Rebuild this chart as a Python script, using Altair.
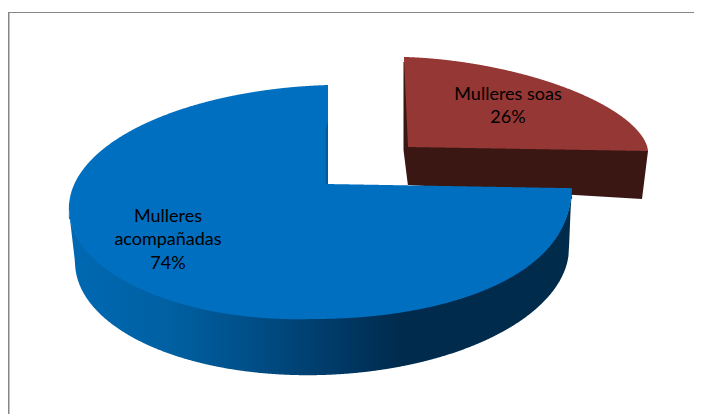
import altair as alt
import numpy as np
import pandas as pd

# Data
categories = ["Mulleres acompañadas", "Mulleres soas"]
label_text = ["Mulleres\nacompañadas\n74%", "Mulleres soas\n26%"]
shares = [74, 26]

# Colours
blue_top = "#006fc0"
blue_edge = "#00599c"
red_top = "#953735"
red_side = "#3a1713"
frame = "#868686"

W, H = 686, 406
x_scale = alt.Scale(domain=[8, 8 + W], range=[0, W], nice=False, zero=False)
y_scale = alt.Scale(domain=[8 + H, 8], range=[H, 0], nice=False, zero=False)


def area_layer(frame_df, fill):
    return alt.Chart(frame_df).mark_area(fill=fill, stroke=None, interpolate="linear", clip=False).encode(
        x=alt.X("x:Q", scale=x_scale, axis=None),
        y=alt.Y("y:Q", scale=y_scale, axis=None),
        y2="y2:Q",
    )


# The cut sits at 12 o'clock; the red share runs clockwise from there
red_span = shares[1] / sum(shares) * 2 * np.pi
start = red_span - np.pi / 2  # where the blue rim begins


def blue_rim(t):
    """Rim of the blue disc seen in perspective."""
    s, c = np.sin(t), np.cos(t)
    s0 = np.sin(start)
    k = np.where(c > 0, -10.0, -7.5)
    front_right = (c > 0) & (s > 0)
    lift = np.where(front_right, (np.clip(s - s0, 0, None) / (1 - s0)) ** 0.75, s)
    extra = np.where(front_right, 10 * s * c, 0.0)
    x = 321 + 252 * c - 7 * s
    y = 197.5 + 117 * lift + 4.5 * s * s + k * c + extra
    return x, y


def blue_floor(t):
    s, c = np.sin(t), np.cos(t)
    return 322 + 247 * c, 255 + 120 * s - 7 * c


apex_b = (327.0, 184.0)
t_low = np.linspace(start, np.pi, 400)
t_up = np.linspace(np.pi, 1.5 * np.pi, 300)
lx, ly = blue_rim(t_low)
ux, uy = blue_rim(t_up)
sx, sy = lx[0], ly[0]
o = np.argsort(lx)
lx, ly = lx[o], ly[o]
o = np.argsort(ux)
ux, uy = ux[o], uy[o]
top_x = ux.max()

xs = np.unique(np.concatenate([np.linspace(lx.min(), lx.max(), 700), [top_x, top_x + 0.01]]))
low = np.interp(xs, lx, ly)
up = np.where(
    xs <= top_x,
    np.interp(xs, ux, uy),
    apex_b[1] + (sy - apex_b[1]) * (xs - apex_b[0]) / (sx - apex_b[0]),
)
blue_df = pd.DataFrame({"x": xs, "y": up, "y2": low})

# Blue wall
fx, fy = blue_floor(np.linspace(0, np.pi, 500))
o = np.argsort(fx)
fx2 = np.concatenate([[lx.min() + 1], fx[o], [sx - 1]])
fy2 = np.concatenate([[np.interp(lx.min() + 1, lx, ly)], fy[o], [np.interp(sx - 1, lx, ly)]])
wall_y2 = np.interp(xs, fx2, fy2)
wall_df = pd.DataFrame({"x": xs, "y": low - 1, "y2": np.maximum(wall_y2, low)})

wall_fill = alt.Gradient(
    gradient="linear",
    stops=[
        alt.GradientStop(color="#0069b3", offset=0),
        alt.GradientStop(color="#0060a2", offset=0.2),
        alt.GradientStop(color="#00508a", offset=0.35),
        alt.GradientStop(color="#003d6d", offset=0.5),
        alt.GradientStop(color="#002b4d", offset=0.66),
        alt.GradientStop(color="#002b4b", offset=1),
    ],
    x1=0, x2=1, y1=0, y2=0,
)

blue_strip = pd.DataFrame({"x": [top_x - 2.2, top_x], "y": [128.0, 122.0], "y2": [184.0, 184.0]})

# Red slice: pulled out of the disc
apex_r = np.array([408.0, 147.0])
top_r = np.array([404.0, 57.0])
right_r = np.array([648.0, 151.0])
phi = np.linspace(0, np.pi / 2, 300)
p = 1.12
arc = apex_r + np.outer(np.cos(phi) ** p, top_r - apex_r) + np.outer(np.sin(phi) ** p, right_r - apex_r)
ax_, ay_ = arc[:, 0], arc[:, 1]
o = np.argsort(ax_)
ax_, ay_ = ax_[o], ay_[o]
rx = np.linspace(apex_r[0], right_r[0], 400)
red_df = pd.DataFrame({
    "x": rx,
    "y": np.interp(rx, ax_, ay_),
    "y2": apex_r[1] + (right_r[1] - apex_r[1]) * (rx - apex_r[0]) / (right_r[0] - apex_r[0]),
})
# Part left of the apex (the slightly leaning cut)
red_left = pd.DataFrame({
    "x": [top_r[0], apex_r[0]],
    "y": [top_r[1], np.interp(apex_r[0], ax_, ay_)],
    "y2": [top_r[1] + 2, apex_r[1]],
})

red_wall = pd.DataFrame({
    "x": [apex_r[0], 642.0, right_r[0]],
    "y": [apex_r[1] - 1, 150.0, right_r[1] - 1],
    "y2": [185.0, 199.0, right_r[1]],
})
red_cut = pd.DataFrame({"x": [403.5, 408.0], "y": [62.0, 62.0], "y2": [150.0, 186.0]})

labels = pd.DataFrame({
    "label": label_text,
    "x": [168.0, 508.0],
    "y": [216.5, 94.5],
})

text = alt.Chart(labels).mark_text(
    font="Lato", fontSize=18, color="#000000", align="center", baseline="middle",
    lineBreak="\n", lineHeight=23.5,
).encode(
    x=alt.X("x:Q", scale=x_scale, axis=None),
    y=alt.Y("y:Q", scale=y_scale, axis=None),
    text="label:N",
)

frame_left = alt.Chart(pd.DataFrame({"a": [0]})).mark_rule(color=frame, strokeWidth=1.5).encode(
    x=alt.value(0.75), y=alt.value(4), y2=alt.value(H)
)
frame_top = alt.Chart(pd.DataFrame({"a": [0]})).mark_rule(color=frame, strokeWidth=1).encode(
    x=alt.value(0), x2=alt.value(W), y=alt.value(4.5)
)

chart = alt.layer(
    area_layer(red_cut, red_side),
    area_layer(red_wall, red_side),
    area_layer(red_df, red_top),
    area_layer(red_left, red_top),
    area_layer(wall_df, wall_fill),
    area_layer(blue_df, blue_top),
    area_layer(blue_strip, blue_edge),
    text,
    frame_left,
    frame_top,
).resolve_scale(x="shared", y="shared").properties(
    width=W, height=H, padding=0, autosize=alt.AutoSizeParams(type="none"),
    background="white",
).configure_view(stroke=None)

chart.save("out.html", embed_options={"renderer": "svg", "actions": False})
